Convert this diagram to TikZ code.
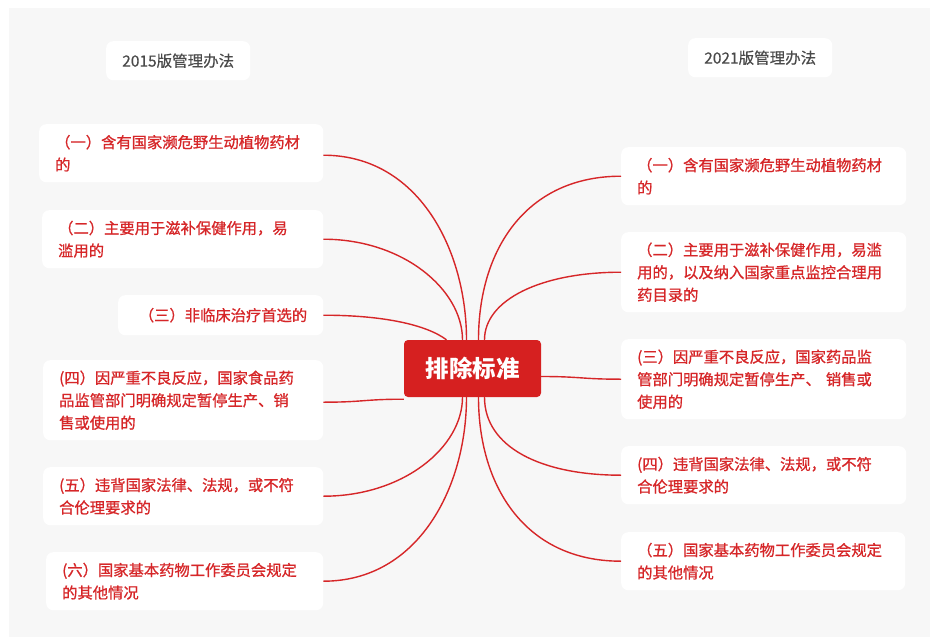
\documentclass[tikz,border=0pt]{standalone}
\usepackage{fontspec}
\setmainfont{Noto Sans CJK SC}
\newfontfamily\cjkm[FakeBold=0.9]{Noto Sans CJK SC}
\newfontfamily\cjkh[FakeBold=0.4]{Noto Sans CJK SC}
\usetikzlibrary{calc}
\definecolor{mmred}{RGB}{214,38,40}
\definecolor{mmfill}{RGB}{214,32,32}
\definecolor{mmbg}{RGB}{247,247,247}
\definecolor{mmgray}{RGB}{74,74,74}
\begin{document}
\begin{tikzpicture}[x=1pt,y=-1pt,
  item/.style={fill=white, rounded corners=7pt, text=mmred, align=left, anchor=north west,
    inner xsep=16pt, inner ysep=0pt, font=\cjkm\fontsize{15.3}{22.5}\selectfont},
  head/.style={fill=white, rounded corners=7pt, text=mmgray, anchor=north west, inner sep=0pt,
    minimum width=144pt, minimum height=39pt, font=\cjkh\fontsize{15.5}{18}\selectfont},
  link/.style={draw=mmred, line width=1.4pt}]
\useasboundingbox (0,0) rectangle (930,637);
\fill[mmbg] (9,8) rectangle (930,637);

% headers
\node[head] (h15) at (106,41) {2015版管理办法};
\node[head] (h21) at (688,38) {2021版管理办法};

% centre
\node[fill=mmfill, rounded corners=4pt, text=white, minimum width=137pt, minimum height=57pt,
  inner sep=0pt, font=\bfseries\fontsize{23.5}{27}\selectfont] (C) at (472.5,368.5) {排除标准};

% left items
\node[item, text width=252pt, minimum height=58pt] (L1) at (39,124)
  {（一）含有国家濒危野生动植物药材\\的};
\node[item, text width=249pt, minimum height=58pt] (L2) at (42,210)
  {（二）主要用于滋补保健作用，易\\滥用的};
\node[item, text width=173pt, minimum height=40pt, inner xsep=16pt] (L3) at (118,295)
  {\hfill（三）非临床治疗首选的};
\node[item, text width=248pt, minimum height=80pt] (L4) at (43,360)
  {(四）因严重不良反应，国家食品药\\品监管部门明确规定暂停生产、销\\售或使用的};
\node[item, text width=248pt, minimum height=58pt] (L5) at (43,467)
  {(五）违背国家法律、法规，或不符\\合伦理要求的};
\node[item, text width=245pt, minimum height=58pt] (L6) at (46,552)
  {(六）国家基本药物工作委员会规定\\的其他情况};

% right items
\node[item, text width=253pt, minimum height=58pt] (R1) at (621,147)
  {（一）含有国家濒危野生动植物药材\\的};
\node[item, text width=253pt, minimum height=80pt] (R2) at (621,232)
  {（二）主要用于滋补保健作用，易滥\\用的，以及纳入国家重点监控合理用\\药目录的};
\node[item, text width=253pt, minimum height=80pt] (R3) at (621,339)
  {(三）因严重不良反应，国家药品监\\管部门明确规定暂停生产、 销售或\\使用的};
\node[item, text width=253pt, minimum height=58pt] (R4) at (621,446)
  {(四）违背国家法律、法规，或不符\\合伦理要求的};
\node[item, text width=252pt, minimum height=58pt] (R5) at (621,532)
  {（五）国家基本药物工作委员会规定\\的其他情况};

% connectors
\draw[link] ([xshift=-6pt]C.north) .. controls +(0,-90) and +(95,0) .. ([yshift=-2pt]L1.east);
\draw[link] ([xshift=-10pt]C.north) .. controls +(0,-50) and +(80,0) .. (L2.east);
\draw[link] ([xshift=-26pt]C.north) .. controls +(-20,-15) and +(60,0) .. (L3.east);
\draw[link] ([yshift=-2pt]C.south west) .. controls +(-40,0) and +(40,0) .. ([yshift=-2pt]L4.east);
\draw[link] ([xshift=-10pt]C.south) .. controls +(0,50) and +(80,0) .. (L5.east);
\draw[link] ([xshift=-6pt]C.south) .. controls +(0,90) and +(95,0) .. (L6.east);
\draw[link] ([xshift=6pt]C.north) .. controls +(0,-90) and +(-95,0) .. (R1.west);
\draw[link] ([xshift=12pt]C.north) .. controls +(0,-40) and +(-80,0) .. (R2.west);
\draw[link] ([yshift=-8pt]C.east) .. controls +(40,0) and +(-40,0) .. (R3.west);
\draw[link] ([xshift=12pt]C.south) .. controls +(0,50) and +(-80,0) .. (R4.west);
\draw[link] ([xshift=6pt]C.south) .. controls +(0,90) and +(-95,0) .. (R5.west);
\end{tikzpicture}
\end{document}
